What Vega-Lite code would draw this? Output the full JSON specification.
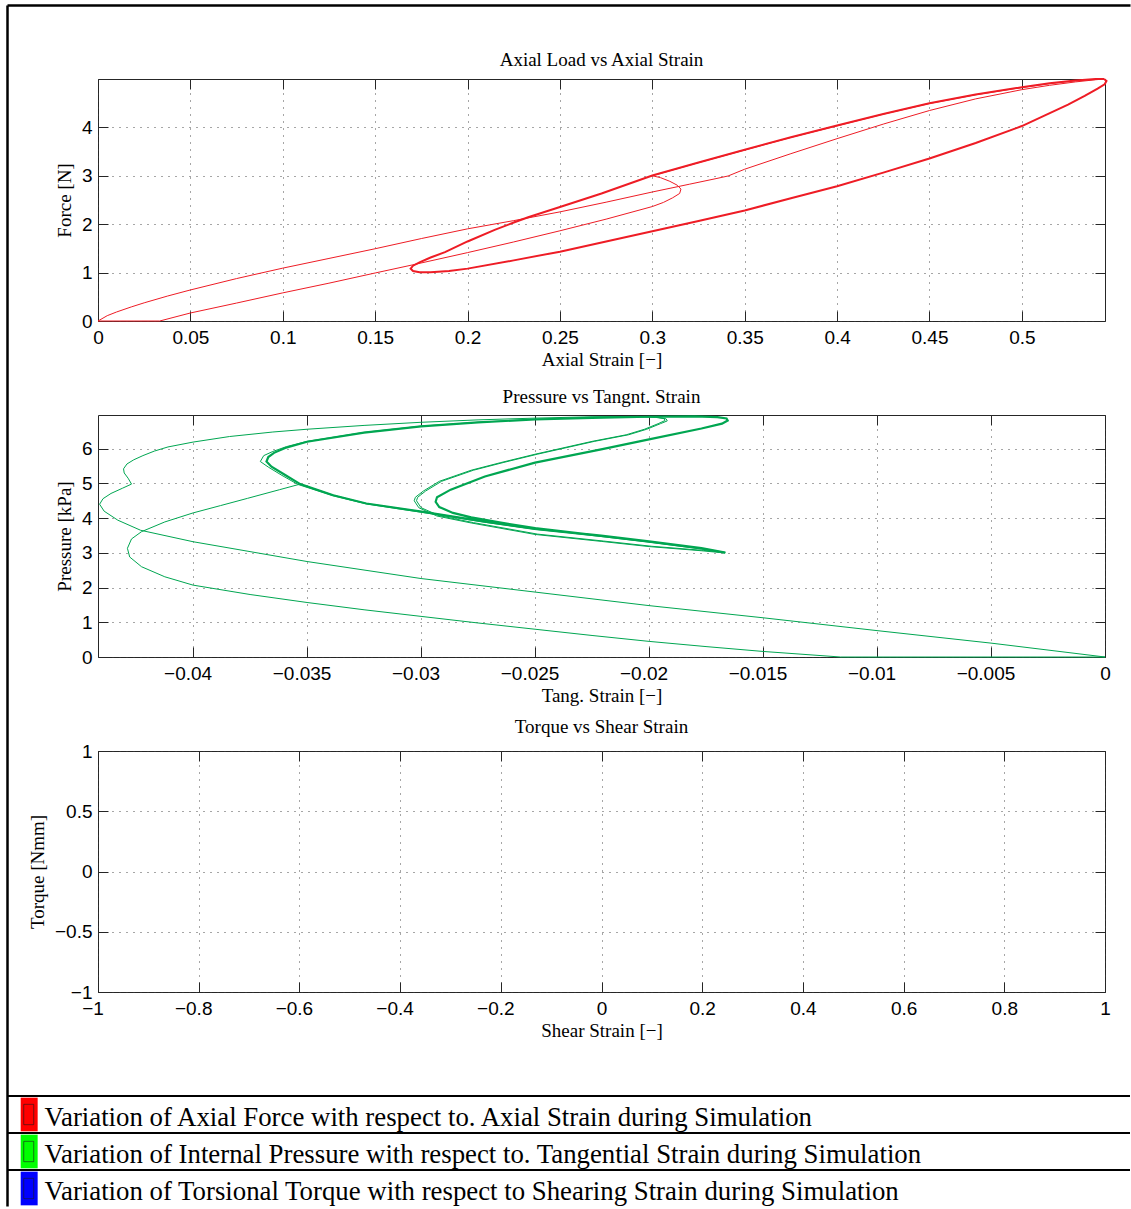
{
  "$schema": "https://vega.github.io/schema/vega-lite/v6.json",
  "background": "white",
  "padding": {"left": 5, "top": 5, "right": 0, "bottom": 0},
  "autosize": {"type": "pad"},
  "config": {
    "view": {"stroke": "#262626", "strokeWidth": 1},
    "axis": {
      "labelFont": "Liberation Sans", "labelFontSize": 19, "labelColor": "#000",
      "titleFont": "Liberation Serif", "titleFontSize": 19, "titleFontWeight": "normal", "titleColor": "#000",
      "tickColor": "#262626", "tickSize": -10, "tickWidth": 1,
      "domain": false,
      "gridColor": "#3a3a3a", "gridDash": [1, 6], "gridWidth": 1, "gridOpacity": 0.9,
      "labelFlush": false, "labelOverlap": false, "labelPadding": 16
    },
    "axisX": {"titlePadding": 3, "labelPadding": 17},
    "axisY": {"titlePadding": 7},
    "title": {"font": "Liberation Serif", "fontSize": 19, "fontWeight": "normal", "color": "#000", "offset": 5, "baseline": "alphabetic"}
  },
  "datasets": {
    "p1a": [{"i":0,"x":0,"y":0},{"i":1,"x":0.005,"y":0.11},{"i":2,"x":0.01,"y":0.185},{"i":3,"x":0.018,"y":0.29},{"i":4,"x":0.025,"y":0.375},{"i":5,"x":0.0375,"y":0.513},{"i":6,"x":0.05,"y":0.64},{"i":7,"x":0.075,"y":0.875},{"i":8,"x":0.1,"y":1.09},{"i":9,"x":0.125,"y":1.29},{"i":10,"x":0.15,"y":1.49},{"i":11,"x":0.175,"y":1.7},{"i":12,"x":0.2,"y":1.9},{"i":13,"x":0.225,"y":2.07},{"i":14,"x":0.25,"y":2.25},{"i":15,"x":0.275,"y":2.45},{"i":16,"x":0.3,"y":2.66},{"i":17,"x":0.32,"y":2.82},{"i":18,"x":0.335,"y":2.94},{"i":19,"x":0.341,"y":2.99},{"i":20,"x":0.35,"y":3.13},{"i":21,"x":0.375,"y":3.45},{"i":22,"x":0.4,"y":3.76},{"i":23,"x":0.425,"y":4.06},{"i":24,"x":0.45,"y":4.34},{"i":25,"x":0.475,"y":4.58},{"i":26,"x":0.5,"y":4.77},{"i":27,"x":0.515,"y":4.86},{"i":28,"x":0.529,"y":4.93},{"i":29,"x":0.54,"y":4.975},{"i":30,"x":0.5445,"y":4.99}],
    "p1b": [{"i":0,"x":0.5445,"y":4.99},{"i":1,"x":0.5458,"y":4.95},{"i":2,"x":0.5448,"y":4.88},{"i":3,"x":0.541,"y":4.79},{"i":4,"x":0.534,"y":4.64},{"i":5,"x":0.525,"y":4.46},{"i":6,"x":0.5125,"y":4.24},{"i":7,"x":0.5,"y":4.02},{"i":8,"x":0.475,"y":3.67},{"i":9,"x":0.45,"y":3.35},{"i":10,"x":0.425,"y":3.06},{"i":11,"x":0.4,"y":2.78},{"i":12,"x":0.375,"y":2.53},{"i":13,"x":0.35,"y":2.28},{"i":14,"x":0.325,"y":2.06},{"i":15,"x":0.3,"y":1.85},{"i":16,"x":0.275,"y":1.64},{"i":17,"x":0.25,"y":1.43},{"i":18,"x":0.225,"y":1.25},{"i":19,"x":0.2,"y":1.08},{"i":20,"x":0.19,"y":1.03},{"i":21,"x":0.18,"y":1.005},{"i":22,"x":0.174,"y":1.005},{"i":23,"x":0.1705,"y":1.03},{"i":24,"x":0.1692,"y":1.08},{"i":25,"x":0.1705,"y":1.14},{"i":26,"x":0.174,"y":1.21},{"i":27,"x":0.18,"y":1.31},{"i":28,"x":0.1878,"y":1.42},{"i":29,"x":0.2,"y":1.64},{"i":30,"x":0.2147,"y":1.88},{"i":31,"x":0.225,"y":2.03},{"i":32,"x":0.2328,"y":2.14},{"i":33,"x":0.25,"y":2.35},{"i":34,"x":0.2725,"y":2.63},{"i":35,"x":0.3,"y":3.0},{"i":36,"x":0.325,"y":3.27},{"i":37,"x":0.35,"y":3.53},{"i":38,"x":0.375,"y":3.79},{"i":39,"x":0.4,"y":4.03},{"i":40,"x":0.425,"y":4.27},{"i":41,"x":0.45,"y":4.49},{"i":42,"x":0.475,"y":4.67},{"i":43,"x":0.5,"y":4.82},{"i":44,"x":0.515,"y":4.9},{"i":45,"x":0.529,"y":4.96},{"i":46,"x":0.54,"y":4.99},{"i":47,"x":0.5445,"y":4.99}],
    "p1c": [{"i":0,"x":0.5445,"y":4.99},{"i":1,"x":0.54,"y":4.985},{"i":2,"x":0.529,"y":4.955},{"i":3,"x":0.515,"y":4.895},{"i":4,"x":0.5,"y":4.815},{"i":5,"x":0.475,"y":4.665},{"i":6,"x":0.45,"y":4.485},{"i":7,"x":0.425,"y":4.265},{"i":8,"x":0.4,"y":4.025},{"i":9,"x":0.375,"y":3.785},{"i":10,"x":0.35,"y":3.525},{"i":11,"x":0.325,"y":3.265},{"i":12,"x":0.3,"y":2.995},{"i":13,"x":0.3045,"y":2.955},{"i":14,"x":0.3095,"y":2.88},{"i":15,"x":0.3135,"y":2.8},{"i":16,"x":0.3155,"y":2.72},{"i":17,"x":0.3148,"y":2.63},{"i":18,"x":0.311,"y":2.54},{"i":19,"x":0.306,"y":2.445},{"i":20,"x":0.3,"y":2.36},{"i":21,"x":0.275,"y":2.1},{"i":22,"x":0.25,"y":1.86},{"i":23,"x":0.225,"y":1.63},{"i":24,"x":0.2,"y":1.41},{"i":25,"x":0.17,"y":1.155},{"i":26,"x":0.15,"y":0.99},{"i":27,"x":0.125,"y":0.78},{"i":28,"x":0.1,"y":0.58},{"i":29,"x":0.075,"y":0.37},{"i":30,"x":0.05,"y":0.165},{"i":31,"x":0.0334,"y":0},{"i":32,"x":0,"y":0}],
    "p2a": [{"i":0,"x":0,"y":0},{"i":1,"x":-0.005,"y":0.4},{"i":2,"x":-0.01,"y":0.76},{"i":3,"x":-0.015,"y":1.13},{"i":4,"x":-0.02,"y":1.48},{"i":5,"x":-0.025,"y":1.87},{"i":6,"x":-0.03,"y":2.26},{"i":7,"x":-0.035,"y":2.75},{"i":8,"x":-0.04,"y":3.32},{"i":9,"x":-0.0423,"y":3.65},{"i":10,"x":-0.0433,"y":3.94},{"i":11,"x":-0.0439,"y":4.2},{"i":12,"x":-0.0441,"y":4.4},{"i":13,"x":-0.04395,"y":4.56},{"i":14,"x":-0.0436,"y":4.71},{"i":15,"x":-0.0431,"y":4.86},{"i":16,"x":-0.0427,"y":4.98},{"i":17,"x":-0.04285,"y":5.15},{"i":18,"x":-0.04302,"y":5.3},{"i":19,"x":-0.04305,"y":5.42},{"i":20,"x":-0.0429,"y":5.56},{"i":21,"x":-0.0426,"y":5.68},{"i":22,"x":-0.0422,"y":5.8},{"i":23,"x":-0.0417,"y":5.93},{"i":24,"x":-0.0411,"y":6.05},{"i":25,"x":-0.04,"y":6.19},{"i":26,"x":-0.0384,"y":6.35},{"i":27,"x":-0.0365,"y":6.48},{"i":28,"x":-0.035,"y":6.56},{"i":29,"x":-0.0325,"y":6.67},{"i":30,"x":-0.03,"y":6.76},{"i":31,"x":-0.0275,"y":6.83},{"i":32,"x":-0.025,"y":6.88},{"i":33,"x":-0.0225,"y":6.92},{"i":34,"x":-0.0205,"y":6.93},{"i":35,"x":-0.0197,"y":6.91},{"i":36,"x":-0.01935,"y":6.87},{"i":37,"x":-0.0193,"y":6.81},{"i":38,"x":-0.0196,"y":6.72},{"i":39,"x":-0.0202,"y":6.56},{"i":40,"x":-0.021,"y":6.4},{"i":41,"x":-0.0225,"y":6.21},{"i":42,"x":-0.025,"y":5.84},{"i":43,"x":-0.0265,"y":5.6},{"i":44,"x":-0.0278,"y":5.38},{"i":45,"x":-0.0292,"y":5.06},{"i":46,"x":-0.0299,"y":4.78},{"i":47,"x":-0.03025,"y":4.6},{"i":48,"x":-0.0303,"y":4.5},{"i":49,"x":-0.0301,"y":4.3},{"i":50,"x":-0.0293,"y":4.06},{"i":51,"x":-0.0278,"y":3.86},{"i":52,"x":-0.025,"y":3.53},{"i":53,"x":-0.0221,"y":3.33},{"i":54,"x":-0.02,"y":3.18},{"i":55,"x":-0.0177,"y":3.06},{"i":56,"x":-0.0169,"y":3.01},{"i":57,"x":-0.01668,"y":2.995}],
    "p2b": [{"i":0,"x":-0.01668,"y":2.995},{"i":1,"x":-0.0177,"y":3.11},{"i":2,"x":-0.02,"y":3.31},{"i":3,"x":-0.0221,"y":3.47},{"i":4,"x":-0.025,"y":3.67},{"i":5,"x":-0.0272,"y":3.88},{"i":6,"x":-0.0299,"y":4.16},{"i":7,"x":-0.0324,"y":4.41},{"i":8,"x":-0.0339,"y":4.65},{"i":9,"x":-0.0354,"y":4.97},{"i":10,"x":-0.0361,"y":5.23},{"i":11,"x":-0.0367,"y":5.47},{"i":12,"x":-0.03705,"y":5.63},{"i":13,"x":-0.0369,"y":5.8},{"i":14,"x":-0.0365,"y":5.92},{"i":15,"x":-0.0359,"y":6.06},{"i":16,"x":-0.035,"y":6.21},{"i":17,"x":-0.0325,"y":6.47},{"i":18,"x":-0.03,"y":6.65},{"i":19,"x":-0.0275,"y":6.76},{"i":20,"x":-0.025,"y":6.85},{"i":21,"x":-0.0225,"y":6.9},{"i":22,"x":-0.0205,"y":6.92},{"i":23,"x":-0.0197,"y":6.9},{"i":24,"x":-0.01925,"y":6.86},{"i":25,"x":-0.0192,"y":6.8},{"i":26,"x":-0.0195,"y":6.72},{"i":27,"x":-0.0201,"y":6.56},{"i":28,"x":-0.0209,"y":6.4},{"i":29,"x":-0.0224,"y":6.21},{"i":30,"x":-0.0249,"y":5.84},{"i":31,"x":-0.0264,"y":5.6},{"i":32,"x":-0.0277,"y":5.38},{"i":33,"x":-0.0291,"y":5.06},{"i":34,"x":-0.0298,"y":4.78},{"i":35,"x":-0.03015,"y":4.6},{"i":36,"x":-0.0302,"y":4.5},{"i":37,"x":-0.03,"y":4.3},{"i":38,"x":-0.0292,"y":4.07},{"i":39,"x":-0.0277,"y":3.87},{"i":40,"x":-0.0249,"y":3.54},{"i":41,"x":-0.022,"y":3.34},{"i":42,"x":-0.0199,"y":3.19},{"i":43,"x":-0.0176,"y":3.07},{"i":44,"x":-0.0168,"y":3.02},{"i":45,"x":-0.01668,"y":2.995}],
    "p2c": [{"i":0,"x":-0.01665,"y":3.01},{"i":1,"x":-0.0177,"y":3.14},{"i":2,"x":-0.02,"y":3.33},{"i":3,"x":-0.0221,"y":3.5},{"i":4,"x":-0.025,"y":3.7},{"i":5,"x":-0.0272,"y":3.9},{"i":6,"x":-0.0299,"y":4.18},{"i":7,"x":-0.0324,"y":4.42},{"i":8,"x":-0.03385,"y":4.66},{"i":9,"x":-0.0353,"y":4.98},{"i":10,"x":-0.03596,"y":5.24},{"i":11,"x":-0.03656,"y":5.48},{"i":12,"x":-0.03678,"y":5.63},{"i":13,"x":-0.0367,"y":5.76},{"i":14,"x":-0.03645,"y":5.88},{"i":15,"x":-0.03596,"y":6.02},{"i":16,"x":-0.035,"y":6.2},{"i":17,"x":-0.0325,"y":6.46},{"i":18,"x":-0.03,"y":6.64},{"i":19,"x":-0.0275,"y":6.76},{"i":20,"x":-0.025,"y":6.84},{"i":21,"x":-0.0225,"y":6.89},{"i":22,"x":-0.02,"y":6.92},{"i":23,"x":-0.018,"y":6.93},{"i":24,"x":-0.017,"y":6.91},{"i":25,"x":-0.0166,"y":6.87},{"i":26,"x":-0.01655,"y":6.81},{"i":27,"x":-0.0168,"y":6.72},{"i":28,"x":-0.0177,"y":6.58},{"i":29,"x":-0.02,"y":6.27},{"i":30,"x":-0.0221,"y":5.98},{"i":31,"x":-0.025,"y":5.6},{"i":32,"x":-0.0272,"y":5.2},{"i":33,"x":-0.0287,"y":4.82},{"i":34,"x":-0.0293,"y":4.6},{"i":35,"x":-0.02936,"y":4.47},{"i":36,"x":-0.0292,"y":4.32},{"i":37,"x":-0.0286,"y":4.15},{"i":38,"x":-0.0278,"y":4.02},{"i":39,"x":-0.0265,"y":3.87},{"i":40,"x":-0.025,"y":3.71},{"i":41,"x":-0.0221,"y":3.49},{"i":42,"x":-0.02,"y":3.32},{"i":43,"x":-0.0177,"y":3.13},{"i":44,"x":-0.01665,"y":3.01}],
    "p2d": [{"i":0,"x":-0.01665,"y":3.01},{"i":1,"x":-0.0177,"y":3.13},{"i":2,"x":-0.02,"y":3.32},{"i":3,"x":-0.0221,"y":3.49},{"i":4,"x":-0.025,"y":3.7},{"i":5,"x":-0.0272,"y":3.9},{"i":6,"x":-0.0299,"y":4.18},{"i":7,"x":-0.0324,"y":4.42},{"i":8,"x":-0.03385,"y":4.66},{"i":9,"x":-0.0353,"y":4.98},{"i":10,"x":-0.0362,"y":4.82},{"i":11,"x":-0.03761,"y":4.57},{"i":12,"x":-0.0388,"y":4.36},{"i":13,"x":-0.04,"y":4.15},{"i":14,"x":-0.04124,"y":3.89},{"i":15,"x":-0.04226,"y":3.61},{"i":16,"x":-0.0427,"y":3.4},{"i":17,"x":-0.04288,"y":3.13},{"i":18,"x":-0.04278,"y":2.88},{"i":19,"x":-0.04226,"y":2.6},{"i":20,"x":-0.04124,"y":2.31},{"i":21,"x":-0.04,"y":2.07},{"i":22,"x":-0.0375,"y":1.8},{"i":23,"x":-0.035,"y":1.57},{"i":24,"x":-0.0325,"y":1.36},{"i":25,"x":-0.03,"y":1.17},{"i":26,"x":-0.0275,"y":0.98},{"i":27,"x":-0.025,"y":0.8},{"i":28,"x":-0.0225,"y":0.62},{"i":29,"x":-0.02,"y":0.45},{"i":30,"x":-0.0175,"y":0.3},{"i":31,"x":-0.015,"y":0.16},{"i":32,"x":-0.0116,"y":0},{"i":33,"x":0,"y":0}],
    "legend": [
      {"k":"a","label":"Variation of Axial Force with respect to. Axial Strain during Simulation"},
      {"k":"b","label":"Variation of Internal Pressure with respect to. Tangential Strain during Simulation"},
      {"k":"c","label":"Variation of Torsional Torque with respect to Shearing Strain during Simulation"}
    ]
  },
  "vconcat": [
    {
      "vconcat": [
        {
          "width": 1123, "height": 1201,
          "view": {"stroke": null},
          "data": {"values": [{"f": 0}]},
          "mark": {"type": "point", "opacity": 0},
          "encoding": {
            "x": {"datum": 0.5, "type": "quantitative", "scale": {"domain": [0, 1]}, "axis": {"orient": "top", "domain": true, "domainColor": "#000", "domainWidth": 2.5, "ticks": false, "labels": false, "grid": false, "title": null}},
            "y": {"datum": 0.5, "type": "quantitative", "scale": {"domain": [0, 1]}, "axis": {"orient": "left", "domain": true, "domainColor": "#000", "domainWidth": 2.5, "ticks": false, "labels": false, "grid": false, "title": null}}
          }
        }
      ]
    },
    {
      "hconcat": [
        {"width": 91, "height": 1, "view": {"stroke": null}, "data": {"values": []}, "mark": "rule", "encoding": {}},
        {
          "vconcat": [
            {
              "width": 1007, "height": 242,
              "title": {"text": "Axial Load vs Axial Strain"},
              "layer": [
                {"data": {"name": "p1a"}, "mark": {"type": "line", "color": "#ee1c25", "strokeWidth": 1},
                 "encoding": {
                   "x": {"field": "x", "type": "quantitative", "scale": {"domain": [0, 0.545], "nice": false, "zero": false}, "axis": {"orient": "bottom", "values": [0,0.05,0.1,0.15,0.2,0.25,0.3,0.35,0.4,0.45,0.5], "format": "~g", "title": "Axial Strain [−]", "grid": true}},
                   "y": {"field": "y", "type": "quantitative", "scale": {"domain": [0, 4.99], "nice": false}, "axis": {"orient": "left", "values": [0,1,2,3,4], "format": "~g", "title": "Force [N]", "grid": true}},
                   "order": {"field": "i", "type": "quantitative"}}},
                {"data": {"name": "p1c"}, "mark": {"type": "line", "color": "#ee1c25", "strokeWidth": 1},
                 "encoding": {
                   "x": {"field": "x", "type": "quantitative", "scale": {"domain": [0, 0.545], "nice": false, "zero": false}, "axis": null},
                   "y": {"field": "y", "type": "quantitative", "scale": {"domain": [0, 4.99], "nice": false}, "axis": null},
                   "order": {"field": "i", "type": "quantitative"}}},
                {"data": {"name": "p1b"}, "mark": {"type": "line", "color": "#ee1c25", "strokeWidth": 2},
                 "encoding": {
                   "x": {"field": "x", "type": "quantitative", "scale": {"domain": [0, 0.545], "nice": false, "zero": false}, "axis": {"orient": "top", "values": [0,0.05,0.1,0.15,0.2,0.25,0.3,0.35,0.4,0.45,0.5], "labels": false, "title": null, "grid": false}},
                   "y": {"field": "y", "type": "quantitative", "scale": {"domain": [0, 4.99], "nice": false}, "axis": {"orient": "right", "values": [0,1,2,3,4], "labels": false, "title": null, "grid": false}},
                   "order": {"field": "i", "type": "quantitative"}}}
              ],
              "resolve": {"axis": {"x": "independent", "y": "independent"}}
            },
            {
              "width": 1007, "height": 242,
              "title": {"text": "Pressure vs Tangnt. Strain"},
              "layer": [
                {"data": {"name": "p2a"}, "mark": {"type": "line", "color": "#00a651", "strokeWidth": 1},
                 "encoding": {
                   "x": {"field": "x", "type": "quantitative", "scale": {"domain": [-0.04417, 0], "nice": false, "zero": false}, "axis": {"orient": "bottom", "values": [-0.04,-0.035,-0.03,-0.025,-0.02,-0.015,-0.01,-0.005,0], "format": "~g", "title": "Tang. Strain [−]", "grid": true, "labelOffset": {"condition": {"test": "datum.value < 0", "value": -5.5}, "value": 0}}},
                   "y": {"field": "y", "type": "quantitative", "scale": {"domain": [0, 6.97], "nice": false}, "axis": {"orient": "left", "values": [0,1,2,3,4,5,6], "format": "~g", "title": "Pressure [kPa]", "grid": true}},
                   "order": {"field": "i", "type": "quantitative"}}},
                {"data": {"name": "p2b"}, "mark": {"type": "line", "color": "#00a651", "strokeWidth": 1},
                 "encoding": {
                   "x": {"field": "x", "type": "quantitative", "scale": {"domain": [-0.04417, 0], "nice": false, "zero": false}, "axis": null},
                   "y": {"field": "y", "type": "quantitative", "scale": {"domain": [0, 6.97], "nice": false}, "axis": null},
                   "order": {"field": "i", "type": "quantitative"}}},
                {"data": {"name": "p2d"}, "mark": {"type": "line", "color": "#00a651", "strokeWidth": 1},
                 "encoding": {
                   "x": {"field": "x", "type": "quantitative", "scale": {"domain": [-0.04417, 0], "nice": false, "zero": false}, "axis": null},
                   "y": {"field": "y", "type": "quantitative", "scale": {"domain": [0, 6.97], "nice": false}, "axis": null},
                   "order": {"field": "i", "type": "quantitative"}}},
                {"data": {"name": "p2c"}, "mark": {"type": "line", "color": "#00a651", "strokeWidth": 2.2},
                 "encoding": {
                   "x": {"field": "x", "type": "quantitative", "scale": {"domain": [-0.04417, 0], "nice": false, "zero": false}, "axis": {"orient": "top", "values": [-0.04,-0.035,-0.03,-0.025,-0.02,-0.015,-0.01,-0.005,0], "labels": false, "title": null, "grid": false}},
                   "y": {"field": "y", "type": "quantitative", "scale": {"domain": [0, 6.97], "nice": false}, "axis": {"orient": "right", "values": [0,1,2,3,4,5,6], "labels": false, "title": null, "grid": false}},
                   "order": {"field": "i", "type": "quantitative"}}}
              ],
              "resolve": {"axis": {"x": "independent", "y": "independent"}}
            },
            {
              "width": 1007, "height": 241,
              "title": {"text": "Torque vs Shear Strain"},
              "layer": [
                {"data": {"values": []}, "mark": {"type": "line", "color": "#0000ff", "strokeWidth": 1},
                 "encoding": {
                   "x": {"field": "x", "type": "quantitative", "scale": {"domain": [-1, 1], "nice": false, "zero": false}, "axis": {"orient": "bottom", "values": [-1,-0.8,-0.6,-0.4,-0.2,0,0.2,0.4,0.6,0.8,1], "format": "~g", "title": "Shear Strain [−]", "grid": true, "labelOffset": {"condition": {"test": "datum.value < 0", "value": -5.5}, "value": 0}}},
                   "y": {"field": "y", "type": "quantitative", "scale": {"domain": [-1, 1], "nice": false, "zero": false}, "axis": {"orient": "left", "values": [-1,-0.5,0,0.5,1], "format": "~g", "title": "Torque [Nmm]", "grid": true}}}},
                {"data": {"values": []}, "mark": {"type": "line", "color": "#0000ff", "strokeWidth": 1},
                 "encoding": {
                   "x": {"field": "x", "type": "quantitative", "scale": {"domain": [-1, 1], "nice": false, "zero": false}, "axis": {"orient": "top", "values": [-1,-0.8,-0.6,-0.4,-0.2,0,0.2,0.4,0.6,0.8,1], "labels": false, "title": null, "grid": false}},
                   "y": {"field": "y", "type": "quantitative", "scale": {"domain": [-1, 1], "nice": false, "zero": false}, "axis": {"orient": "right", "values": [-1,-0.5,0,0.5,1], "labels": false, "title": null, "grid": false}}}}
              ],
              "resolve": {"axis": {"x": "independent", "y": "independent"}}
            }
          ],
          "spacing": 94,
          "bounds": "flush"
        }
      ],
      "spacing": 0,
      "bounds": "flush"
    },
    {"width": 1, "height": 869, "view": {"stroke": null}, "data": {"values": []}, "mark": "rule", "encoding": {}},
    {
      "vconcat": [
        {
          "width": 1123, "height": 111,
          "view": {"stroke": null},
          "data": {"name": "legend"},
          "layer": [
            {"mark": {"type": "rule", "color": "#000", "strokeWidth": 2.2},
             "encoding": {"y": {"field": "k", "type": "nominal", "bandPosition": 0, "scale": {"type": "band", "domain": ["a","b","c"], "paddingInner": 0, "paddingOuter": 0}, "axis": null}}},
            {"mark": {"type": "rect", "height": {"band": 0.91}},
             "encoding": {
               "y": {"field": "k", "type": "nominal", "scale": {"type": "band", "domain": ["a","b","c"], "paddingInner": 0, "paddingOuter": 0}, "axis": null},
               "x": {"datum": 0.0122, "type": "quantitative", "scale": {"domain": [0, 1]}, "axis": null},
               "x2": {"datum": 0.0273},
               "color": {"field": "k", "type": "nominal", "scale": {"domain": ["a","b","c"], "range": ["#ff0000","#00ff00","#0000ff"]}, "legend": null}}},
            {"mark": {"type": "rect", "height": {"band": 0.55}, "fillOpacity": 0, "stroke": "#1a1a1a", "strokeOpacity": 0.6, "strokeWidth": 1},
             "encoding": {
               "y": {"field": "k", "type": "nominal", "scale": {"type": "band", "domain": ["a","b","c"], "paddingInner": 0, "paddingOuter": 0}, "axis": null},
               "x": {"datum": 0.0149, "type": "quantitative", "scale": {"domain": [0, 1]}, "axis": null},
               "x2": {"datum": 0.0238}}},
            {"mark": {"type": "text", "align": "left", "baseline": "middle", "font": "Liberation Serif", "fontSize": 26.8, "color": "#000", "dy": 3},
             "encoding": {
               "y": {"field": "k", "type": "nominal", "scale": {"type": "band", "domain": ["a","b","c"], "paddingInner": 0, "paddingOuter": 0}, "axis": null},
               "x": {"datum": 0.0335, "type": "quantitative", "scale": {"domain": [0, 1]}, "axis": null},
               "text": {"field": "label"}}}
          ],
          "resolve": {"axis": {"x": "independent", "y": "independent"}}
        }
      ]
    }
  ],
  "spacing": 74,
  "bounds": "flush"
}
